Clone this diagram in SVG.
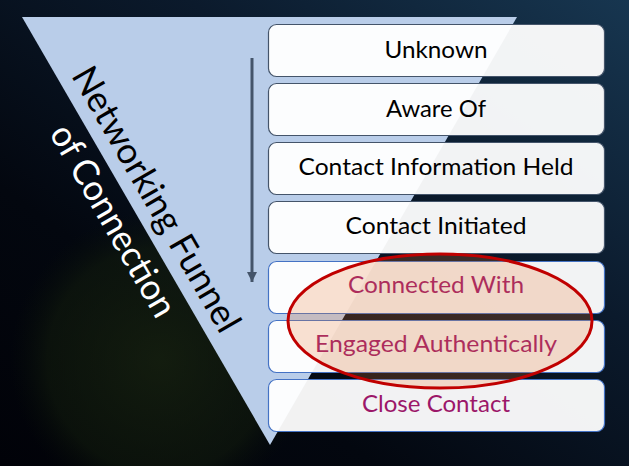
<svg xmlns="http://www.w3.org/2000/svg" width="629" height="466" viewBox="0 0 629 466">
  <defs>
    <linearGradient id="bg" x1="1" y1="0" x2="0" y2="1">
      <stop offset="0" stop-color="#173650"/>
      <stop offset="0.35" stop-color="#0b1a2c"/>
      <stop offset="0.7" stop-color="#03070f"/>
      <stop offset="1" stop-color="#010208"/>
    </linearGradient>
    <radialGradient id="glow" cx="160" cy="360" r="150" gradientUnits="userSpaceOnUse">
      <stop offset="0" stop-color="#1a260f" stop-opacity="0.7"/>
      <stop offset="0.75" stop-color="#141f0c" stop-opacity="0.5"/>
      <stop offset="1" stop-color="#0a1208" stop-opacity="0"/>
    </radialGradient>
    <marker id="ah" viewBox="0 0 10 10" refX="10" refY="5" markerWidth="10" markerHeight="10" markerUnits="userSpaceOnUse" orient="auto">
      <path d="M0,0 L10,5 L0,10 Z" fill="#44546a"/>
    </marker>
    <style>
      .box { fill: #ffffff; fill-opacity: 0.95; stroke-width: 1.2; }
      .b1 { stroke: #44546a; }
      .b2 { stroke: #4472c4; }
      .lbl { font-family: Lato, "Open Sans", "Liberation Sans", sans-serif; font-size: 23.5px; text-anchor: middle; }
      .dark { fill: #000000; }
      .berry { fill: #9c1769; }
      .ttl { font-family: Lato, "Open Sans", "Liberation Sans", sans-serif; font-size: 36px; text-anchor: middle; }
    </style>
  </defs>

  <rect x="0" y="0" width="629" height="466" fill="url(#bg)"/>
  <rect x="0" y="200" width="330" height="266" fill="url(#glow)"/>

  <g id="funnel">
    <polygon points="22,17 517,17 270,445" fill="#b9cde9"/>
    <g transform="translate(22,17) rotate(60)">
      <text class="ttl" x="225" y="-13" fill="#000000" textLength="300" lengthAdjust="spacingAndGlyphs">Networking Funnel</text>
      <text class="ttl" x="222" y="35" fill="#ffffff" textLength="216" lengthAdjust="spacingAndGlyphs">of Connection</text>
    </g>
  </g>

  <g id="connectors">
    <line x1="252" y1="58" x2="252" y2="282" stroke="#44546a" stroke-width="3" marker-end="url(#ah)"/>
  </g>

  <g id="n1">
    <rect class="box b1" x="268.5" y="24.5" width="336" height="52" rx="8"/>
    <text class="lbl dark" x="436" y="58" textLength="103" lengthAdjust="spacingAndGlyphs">Unknown</text>
  </g>
  <g id="n2">
    <rect class="box b1" x="268.5" y="83.5" width="336" height="52" rx="8"/>
    <text class="lbl dark" x="436" y="117" textLength="100" lengthAdjust="spacingAndGlyphs">Aware Of</text>
  </g>
  <g id="n3">
    <rect class="box b1" x="268.5" y="142.5" width="336" height="52" rx="8"/>
    <text class="lbl dark" x="436" y="175" textLength="275" lengthAdjust="spacingAndGlyphs">Contact Information Held</text>
  </g>
  <g id="n4">
    <rect class="box b1" x="268.5" y="201.5" width="336" height="52" rx="8"/>
    <text class="lbl dark" x="436" y="234" textLength="181" lengthAdjust="spacingAndGlyphs">Contact Initiated</text>
  </g>
  <g id="n5">
    <rect class="box b2" x="268.5" y="261.5" width="336" height="52" rx="8"/>
    <text class="lbl berry" x="436" y="293" textLength="176" lengthAdjust="spacingAndGlyphs">Connected With</text>
  </g>
  <g id="n6">
    <rect class="box b2" x="268.5" y="320.5" width="336" height="52" rx="8"/>
    <text class="lbl berry" x="436" y="352" textLength="242" lengthAdjust="spacingAndGlyphs">Engaged Authentically</text>
  </g>
  <g id="n7">
    <rect class="box b2" x="268.5" y="379.5" width="336" height="52" rx="8"/>
    <text class="lbl berry" x="436" y="412" textLength="148" lengthAdjust="spacingAndGlyphs">Close Contact</text>
  </g>

  <g id="highlight">
    <ellipse cx="440" cy="321" rx="152" ry="67" fill="#ed7d31" fill-opacity="0.22" stroke="#c00000" stroke-width="3"/>
  </g>
</svg>
